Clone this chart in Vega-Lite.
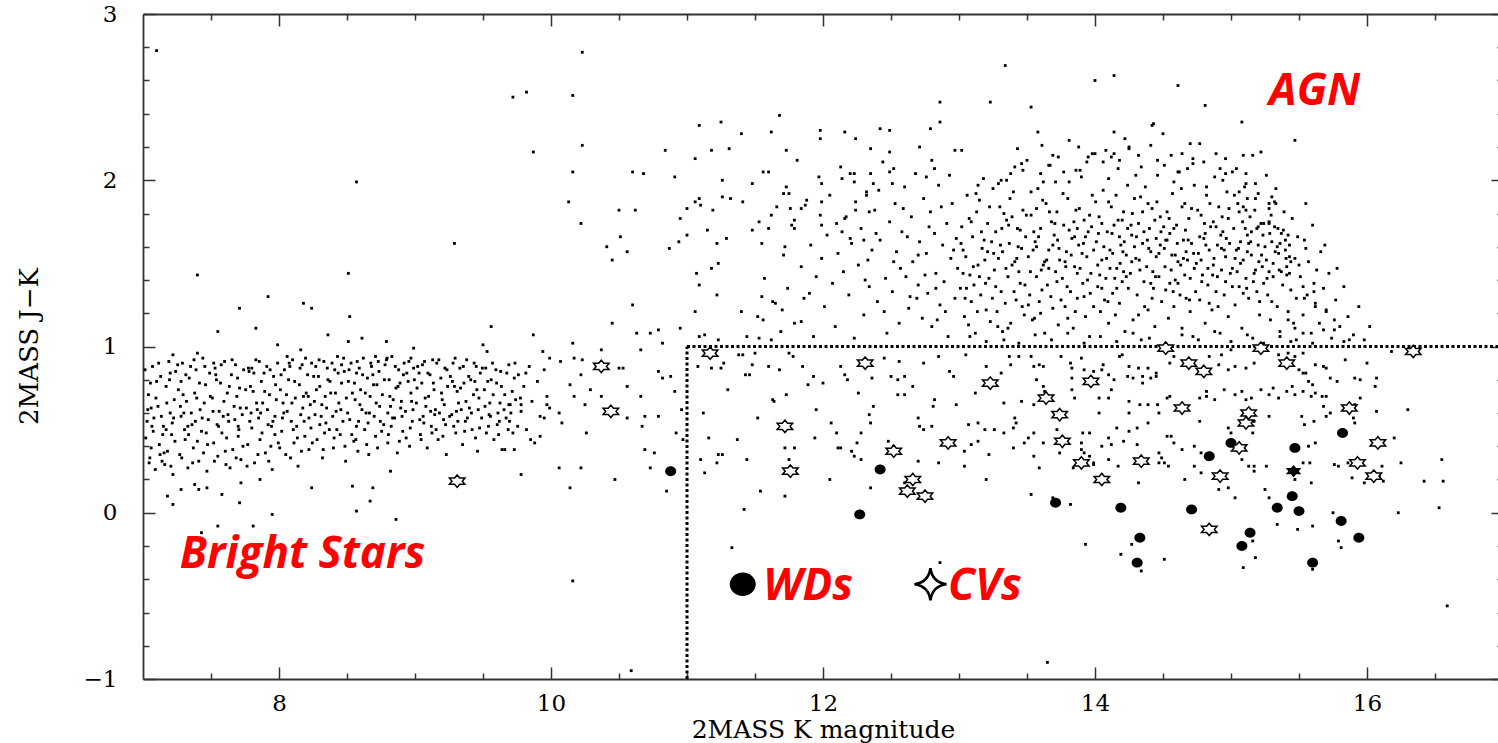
{
"$schema": "https://vega.github.io/schema/vega-lite/v6.json",
"width": 1360, "height": 665,
"autosize": "none",
"padding": {"left": 143, "top": 14, "right": 0, "bottom": 64},
"background": "white",
"config": {"view": {"stroke": null}},
"datasets": {
"dots": [
{"K":7.10,"JK":2.78},{"K":8.57,"JK":1.99},{"K":9.29,"JK":1.62},{"K":7.40,"JK":1.43},{"K":8.51,"JK":1.44},{"K":7.92,"JK":1.30},{"K":7.71,"JK":1.23},{"K":8.18,"JK":1.26},{"K":8.24,"JK":1.23},{"K":8.52,"JK":1.18},{"K":7.55,"JK":1.09},{"K":7.83,"JK":1.11},{"K":9.56,"JK":1.12},{"K":8.36,"JK":1.07},{"K":8.51,"JK":1.03},{"K":8.61,"JK":1.05},{"K":8.79,"JK":1.03},{"K":8.99,"JK":0.99},{"K":9.50,"JK":1.01},{"K":9.53,"JK":0.97},{"K":7.99,"JK":1.01},{"K":8.16,"JK":0.98},{"K":7.22,"JK":0.95},{"K":7.40,"JK":0.96},
{"K":7.18,"JK":0.10},{"K":7.28,"JK":0.14},{"K":7.38,"JK":0.17},{"K":7.41,"JK":0.14},{"K":7.47,"JK":0.15},{"K":7.58,"JK":0.11},{"K":7.72,"JK":0.18},{"K":7.86,"JK":0.20},{"K":8.24,"JK":0.15},{"K":8.54,"JK":0.16},{"K":8.69,"JK":0.15},{"K":8.82,"JK":0.25},{"K":7.22,"JK":0.05},{"K":7.71,"JK":0.06},{"K":7.95,"JK":-0.01},{"K":7.43,"JK":-0.12},{"K":7.55,"JK":-0.08},{"K":7.81,"JK":-0.08},{"K":8.57,"JK":0.01},{"K":8.67,"JK":0.07},{"K":8.86,"JK":-0.04},
{"K":11.42,"JK":0.02},{"K":11.33,"JK":-0.21},{"K":10.16,"JK":-0.41},{"K":10.59,"JK":-0.95},{"K":12.86,"JK":-0.30},
{"K":13.82,"JK":0.05},{"K":13.93,"JK":-0.19},{"K":14.19,"JK":-0.25},{"K":14.27,"JK":-0.19},{"K":14.34,"JK":-0.35},{"K":14.51,"JK":-0.28},{"K":15.09,"JK":-0.33},{"K":15.18,"JK":-0.27},{"K":15.16,"JK":-0.17},{"K":15.34,"JK":-0.07},{"K":15.49,"JK":-0.10},{"K":15.60,"JK":-0.08},{"K":15.60,"JK":-0.34},{"K":15.75,"JK":0.00},{"K":15.79,"JK":-0.17},{"K":15.81,"JK":-0.21},{"K":16.23,"JK":0.00},{"K":16.53,"JK":0.03},{"K":16.59,"JK":-0.56},{"K":13.65,"JK":-0.90},{"K":16.42,"JK":0.19},{"K":16.56,"JK":0.19},{"K":16.55,"JK":0.32},{"K":16.25,"JK":0.30},
{"K":9.72,"JK":2.50},{"K":9.82,"JK":2.53},{"K":10.16,"JK":2.51},{"K":10.23,"JK":2.77},{"K":9.87,"JK":2.17},{"K":10.23,"JK":2.21},{"K":10.16,"JK":2.05},{"K":10.13,"JK":1.87},{"K":10.22,"JK":1.74},{"K":10.50,"JK":1.82},{"K":10.60,"JK":2.05},{"K":10.68,"JK":2.04},{"K":10.84,"JK":2.18},{"K":10.91,"JK":2.02},{"K":11.06,"JK":2.13},{"K":11.09,"JK":2.33},{"K":11.25,"JK":2.35},{"K":11.18,"JK":2.18},{"K":11.31,"JK":2.19},{"K":11.40,"JK":2.28},{"K":11.62,"JK":2.29},{"K":11.68,"JK":2.39},{"K":11.73,"JK":2.18},{"K":11.98,"JK":2.30},{"K":11.98,"JK":2.25},{"K":12.16,"JK":2.29},{"K":12.24,"JK":2.25},{"K":12.42,"JK":2.31},{"K":12.49,"JK":2.30},{"K":12.86,"JK":2.47},{"K":13.23,"JK":2.47},{"K":12.86,"JK":2.35},{"K":12.79,"JK":2.31},{"K":12.49,"JK":2.17},{"K":12.35,"JK":2.19},{"K":12.71,"JK":2.20},{"K":12.97,"JK":2.18},{"K":13.02,"JK":2.18},{"K":12.80,"JK":2.12},{"K":12.82,"JK":2.07},{"K":12.76,"JK":2.02},{"K":12.52,"JK":2.07},{"K":12.49,"JK":2.05},{"K":12.35,"JK":2.04},{"K":12.23,"JK":2.04},{"K":12.20,"JK":2.04},{"K":12.14,"JK":2.01},{"K":12.23,"JK":1.99},{"K":12.37,"JK":1.98},{"K":12.51,"JK":1.98},{"K":12.41,"JK":1.94},{"K":12.32,"JK":1.91},{"K":11.99,"JK":1.98},{"K":11.99,"JK":1.87},{"K":11.98,"JK":1.79},{"K":11.99,"JK":1.73},{"K":12.10,"JK":1.74},{"K":12.16,"JK":1.77},{"K":12.14,"JK":1.69},{"K":12.20,"JK":1.65},{"K":12.24,"JK":1.82},{"K":12.34,"JK":1.81},{"K":12.30,"JK":1.64},
{"K":10.41,"JK":1.60},{"K":10.87,"JK":1.59},{"K":10.94,"JK":1.63},{"K":11.00,"JK":1.67},{"K":10.95,"JK":1.77},{"K":11.00,"JK":1.83},{"K":11.06,"JK":1.87},{"K":11.09,"JK":1.89},{"K":11.10,"JK":1.85},{"K":11.15,"JK":1.70},{"K":11.22,"JK":1.62},{"K":11.29,"JK":1.65},{"K":11.26,"JK":1.90},{"K":11.32,"JK":1.89},{"K":11.19,"JK":1.82},{"K":11.41,"JK":1.87},{"K":11.48,"JK":1.98},{"K":11.56,"JK":2.05},{"K":11.26,"JK":2.00},{"K":11.48,"JK":1.70},{"K":11.53,"JK":1.75},{"K":11.60,"JK":1.71},{"K":11.62,"JK":1.79},{"K":11.71,"JK":1.92},{"K":11.75,"JK":1.92},{"K":11.76,"JK":1.83},{"K":11.79,"JK":1.76},{"K":11.79,"JK":1.71},{"K":11.84,"JK":1.83},{"K":11.87,"JK":1.85},{"K":11.72,"JK":1.60},{"K":10.51,"JK":1.66},{"K":10.62,"JK":1.82},
{"K":10.45,"JK":1.52},{"K":10.56,"JK":1.57},{"K":9.87,"JK":1.07},{"K":10.60,"JK":1.25},{"K":10.45,"JK":1.14},{"K":10.63,"JK":1.08},{"K":10.73,"JK":1.08},{"K":10.79,"JK":1.10},{"K":10.95,"JK":1.11},{"K":10.16,"JK":1.02},{"K":10.37,"JK":0.98},{"K":10.66,"JK":0.98},{"K":10.82,"JK":1.02},{"K":11.07,"JK":1.44},{"K":11.09,"JK":1.37},{"K":11.18,"JK":1.47},{"K":11.23,"JK":1.50},{"K":11.22,"JK":1.31},{"K":11.06,"JK":1.21},{"K":11.13,"JK":1.07},{"K":11.09,"JK":1.06},{"K":11.23,"JK":1.04},{"K":11.40,"JK":1.21},{"K":11.44,"JK":1.06},{"K":11.53,"JK":1.05},{"K":11.62,"JK":1.04},{"K":11.56,"JK":1.16},{"K":11.55,"JK":1.30},{"K":11.65,"JK":1.26},{"K":11.70,"JK":1.22},{"K":11.84,"JK":1.15},{"K":11.90,"JK":1.32},
{"K":9.99,"JK":0.93},{"K":9.94,"JK":0.97},{"K":10.07,"JK":0.91},{"K":10.17,"JK":0.93},{"K":10.23,"JK":0.92},{"K":10.50,"JK":0.87},{"K":10.53,"JK":0.87},{"K":10.79,"JK":0.85},{"K":10.82,"JK":0.81},{"K":10.88,"JK":0.82},{"K":10.91,"JK":0.73},{"K":10.66,"JK":0.70},{"K":10.56,"JK":0.76},{"K":10.22,"JK":0.83},{"K":10.14,"JK":0.77},{"K":10.29,"JK":0.74},{"K":10.37,"JK":0.70},{"K":10.17,"JK":0.70},{"K":10.25,"JK":0.65},{"K":9.97,"JK":0.65},{"K":10.06,"JK":0.60},{"K":9.95,"JK":0.57},{"K":10.08,"JK":0.54},{"K":10.26,"JK":0.48},{"K":10.56,"JK":0.57},{"K":10.69,"JK":0.58},{"K":10.79,"JK":0.58},{"K":10.67,"JK":0.52},{"K":10.92,"JK":0.48},{"K":10.69,"JK":0.38},{"K":10.76,"JK":0.36},{"K":10.73,"JK":0.27},{"K":10.47,"JK":0.20},{"K":10.22,"JK":0.27},{"K":10.06,"JK":0.27},{"K":10.14,"JK":0.15},{"K":9.78,"JK":0.23},{"K":10.85,"JK":0.13},{"K":9.78,"JK":0.65},{"K":9.69,"JK":0.65},{"K":9.92,"JK":0.46},{"K":9.85,"JK":0.44},{"K":9.73,"JK":0.38},{"K":9.66,"JK":0.38},{"K":10.96,"JK":0.62},{"K":10.97,"JK":0.44},
{"K":7.02,"JK":0.45},{"K":7.04,"JK":0.71},{"K":7.05,"JK":0.33},{"K":7.07,"JK":0.88},{"K":7.08,"JK":0.57},{"K":7.09,"JK":0.26},{"K":7.11,"JK":0.64},{"K":7.12,"JK":0.41},{"K":7.13,"JK":0.82},{"K":7.15,"JK":0.52},{"K":7.16,"JK":0.29},{"K":7.17,"JK":0.76},{"K":7.18,"JK":0.37},{"K":7.19,"JK":0.91},{"K":7.20,"JK":0.60},{"K":7.21,"JK":0.47},{"K":7.22,"JK":0.23},{"K":7.23,"JK":0.68},{"K":7.24,"JK":0.85},{"K":7.03,"JK":0.55},{"K":7.06,"JK":0.39},{"K":7.10,"JK":0.79},{"K":7.14,"JK":0.31},{"K":7.20,"JK":0.84},{"K":7.06,"JK":0.63},{"K":7.17,"JK":0.50},
{"K":7.26,"JK":0.74},{"K":7.27,"JK":0.35},{"K":7.28,"JK":0.58},{"K":7.29,"JK":0.90},{"K":7.31,"JK":0.44},{"K":7.32,"JK":0.67},{"K":7.33,"JK":0.27},{"K":7.34,"JK":0.81},{"K":7.36,"JK":0.53},{"K":7.37,"JK":0.39},{"K":7.38,"JK":0.72},{"K":7.39,"JK":0.86},{"K":7.41,"JK":0.31},{"K":7.42,"JK":0.62},{"K":7.43,"JK":0.49},{"K":7.44,"JK":0.93},{"K":7.46,"JK":0.77},{"K":7.47,"JK":0.25},{"K":7.48,"JK":0.56},{"K":7.49,"JK":0.84},{"K":7.30,"JK":0.60},{"K":7.35,"JK":0.88},{"K":7.40,"JK":0.43},{"K":7.45,"JK":0.66},{"K":7.33,"JK":0.52},{"K":7.28,"JK":0.79},
{"K":7.51,"JK":0.69},{"K":7.52,"JK":0.42},{"K":7.53,"JK":0.87},{"K":7.55,"JK":0.34},{"K":7.56,"JK":0.61},{"K":7.57,"JK":0.78},{"K":7.58,"JK":0.48},{"K":7.60,"JK":0.91},{"K":7.61,"JK":0.29},{"K":7.62,"JK":0.72},{"K":7.63,"JK":0.55},{"K":7.65,"JK":0.83},{"K":7.66,"JK":0.38},{"K":7.67,"JK":0.64},{"K":7.68,"JK":0.89},{"K":7.70,"JK":0.46},{"K":7.71,"JK":0.75},{"K":7.72,"JK":0.32},{"K":7.73,"JK":0.59},{"K":7.74,"JK":0.86},{"K":7.54,"JK":0.80},{"K":7.59,"JK":0.58},{"K":7.64,"JK":0.27},{"K":7.69,"JK":0.70},{"K":7.52,"JK":0.90},{"K":7.70,"JK":0.52},
{"K":7.76,"JK":0.63},{"K":7.77,"JK":0.41},{"K":7.78,"JK":0.85},{"K":7.80,"JK":0.51},{"K":7.81,"JK":0.73},{"K":7.82,"JK":0.30},{"K":7.83,"JK":0.92},{"K":7.85,"JK":0.57},{"K":7.86,"JK":0.44},{"K":7.87,"JK":0.79},{"K":7.88,"JK":0.66},{"K":7.90,"JK":0.36},{"K":7.91,"JK":0.88},{"K":7.92,"JK":0.53},{"K":7.93,"JK":0.71},{"K":7.95,"JK":0.26},{"K":7.96,"JK":0.82},{"K":7.97,"JK":0.47},{"K":7.98,"JK":0.68},{"K":7.99,"JK":0.90},{"K":7.79,"JK":0.76},{"K":7.84,"JK":0.62},{"K":7.89,"JK":0.84},{"K":7.94,"JK":0.40},{"K":7.80,"JK":0.87},{"K":7.97,"JK":0.58},
{"K":8.01,"JK":0.74},{"K":8.02,"JK":0.49},{"K":8.04,"JK":0.86},{"K":8.05,"JK":0.35},{"K":8.06,"JK":0.61},{"K":8.07,"JK":0.80},{"K":8.09,"JK":0.55},{"K":8.10,"JK":0.92},{"K":8.11,"JK":0.42},{"K":8.12,"JK":0.69},{"K":8.14,"JK":0.28},{"K":8.15,"JK":0.77},{"K":8.16,"JK":0.59},{"K":8.17,"JK":0.89},{"K":8.19,"JK":0.46},{"K":8.20,"JK":0.72},{"K":8.21,"JK":0.83},{"K":8.22,"JK":0.38},{"K":8.23,"JK":0.65},{"K":8.24,"JK":0.90},{"K":8.03,"JK":0.66},{"K":8.08,"JK":0.88},{"K":8.13,"JK":0.52},{"K":8.18,"JK":0.70},{"K":8.06,"JK":0.94},{"K":8.22,"JK":0.57},
{"K":8.26,"JK":0.67},{"K":8.27,"JK":0.88},{"K":8.28,"JK":0.44},{"K":8.30,"JK":0.76},{"K":8.31,"JK":0.58},{"K":8.32,"JK":0.33},{"K":8.33,"JK":0.91},{"K":8.35,"JK":0.63},{"K":8.36,"JK":0.80},{"K":8.37,"JK":0.50},{"K":8.38,"JK":0.72},{"K":8.40,"JK":0.39},{"K":8.41,"JK":0.86},{"K":8.42,"JK":0.61},{"K":8.43,"JK":0.94},{"K":8.45,"JK":0.47},{"K":8.46,"JK":0.78},{"K":8.47,"JK":0.55},{"K":8.48,"JK":0.85},{"K":8.49,"JK":0.31},{"K":8.29,"JK":0.82},{"K":8.34,"JK":0.70},{"K":8.39,"JK":0.90},{"K":8.44,"JK":0.66},{"K":8.30,"JK":0.53},{"K":8.46,"JK":0.89},
{"K":8.51,"JK":0.79},{"K":8.52,"JK":0.56},{"K":8.53,"JK":0.90},{"K":8.55,"JK":0.43},{"K":8.56,"JK":0.68},{"K":8.57,"JK":0.84},{"K":8.58,"JK":0.37},{"K":8.60,"JK":0.74},{"K":8.61,"JK":0.62},{"K":8.62,"JK":0.93},{"K":8.63,"JK":0.50},{"K":8.65,"JK":0.81},{"K":8.66,"JK":0.35},{"K":8.67,"JK":0.70},{"K":8.68,"JK":0.88},{"K":8.70,"JK":0.58},{"K":8.71,"JK":0.46},{"K":8.72,"JK":0.77},{"K":8.73,"JK":0.91},{"K":8.74,"JK":0.64},{"K":8.54,"JK":0.72},{"K":8.59,"JK":0.87},{"K":8.64,"JK":0.60},{"K":8.69,"JK":0.83},{"K":8.57,"JK":0.52},{"K":8.71,"JK":0.94},
{"K":8.76,"JK":0.71},{"K":8.77,"JK":0.53},{"K":8.78,"JK":0.89},{"K":8.80,"JK":0.42},{"K":8.81,"JK":0.80},{"K":8.82,"JK":0.64},{"K":8.83,"JK":0.94},{"K":8.85,"JK":0.57},{"K":8.86,"JK":0.75},{"K":8.87,"JK":0.36},{"K":8.88,"JK":0.86},{"K":8.90,"JK":0.67},{"K":8.91,"JK":0.49},{"K":8.92,"JK":0.90},{"K":8.93,"JK":0.61},{"K":8.95,"JK":0.79},{"K":8.96,"JK":0.40},{"K":8.97,"JK":0.72},{"K":8.98,"JK":0.55},{"K":8.99,"JK":0.87},{"K":8.79,"JK":0.92},{"K":8.84,"JK":0.68},{"K":8.89,"JK":0.78},{"K":8.94,"JK":0.84},{"K":8.80,"JK":0.60},{"K":8.97,"JK":0.93},
{"K":9.01,"JK":0.66},{"K":9.02,"JK":0.88},{"K":9.04,"JK":0.47},{"K":9.05,"JK":0.78},{"K":9.06,"JK":0.58},{"K":9.07,"JK":0.91},{"K":9.09,"JK":0.39},{"K":9.10,"JK":0.70},{"K":9.11,"JK":0.83},{"K":9.12,"JK":0.52},{"K":9.14,"JK":0.74},{"K":9.15,"JK":0.62},{"K":9.16,"JK":0.90},{"K":9.17,"JK":0.44},{"K":9.19,"JK":0.81},{"K":9.20,"JK":0.68},{"K":9.21,"JK":0.56},{"K":9.22,"JK":0.87},{"K":9.23,"JK":0.35},{"K":9.24,"JK":0.76},{"K":9.03,"JK":0.84},{"K":9.08,"JK":0.64},{"K":9.13,"JK":0.92},{"K":9.18,"JK":0.60},
{"K":9.26,"JK":0.82},{"K":9.27,"JK":0.59},{"K":9.28,"JK":0.90},{"K":9.30,"JK":0.48},{"K":9.31,"JK":0.73},{"K":9.32,"JK":0.66},{"K":9.33,"JK":0.87},{"K":9.35,"JK":0.41},{"K":9.36,"JK":0.78},{"K":9.37,"JK":0.55},{"K":9.38,"JK":0.92},{"K":9.40,"JK":0.63},{"K":9.41,"JK":0.80},{"K":9.42,"JK":0.50},{"K":9.43,"JK":0.71},{"K":9.45,"JK":0.88},{"K":9.46,"JK":0.37},{"K":9.47,"JK":0.69},{"K":9.48,"JK":0.84},{"K":9.49,"JK":0.57},{"K":9.29,"JK":0.76},{"K":9.34,"JK":0.62},{"K":9.44,"JK":0.79},
{"K":9.51,"JK":0.74},{"K":9.52,"JK":0.87},{"K":9.54,"JK":0.52},{"K":9.55,"JK":0.66},{"K":9.57,"JK":0.90},{"K":9.58,"JK":0.44},{"K":9.60,"JK":0.78},{"K":9.61,"JK":0.60},{"K":9.63,"JK":0.85},{"K":9.64,"JK":0.38},{"K":9.66,"JK":0.71},{"K":9.67,"JK":0.57},{"K":9.69,"JK":0.89},{"K":9.70,"JK":0.65},{"K":9.72,"JK":0.48},{"K":9.73,"JK":0.81},{"K":9.74,"JK":0.68},{"K":9.56,"JK":0.80},{"K":9.62,"JK":0.55},
{"K":9.76,"JK":0.83},{"K":9.78,"JK":0.61},{"K":9.80,"JK":0.76},{"K":9.82,"JK":0.50},{"K":9.84,"JK":0.88},{"K":9.86,"JK":0.67},{"K":9.88,"JK":0.42},{"K":9.90,"JK":0.79},{"K":9.92,"JK":0.58},{"K":9.95,"JK":0.86},{"K":9.97,"JK":0.70},{"K":9.99,"JK":0.63},
{"K":7.015,"JK":0.86},{"K":7.035,"JK":0.62},{"K":7.055,"JK":0.78},{"K":7.075,"JK":0.49},{"K":7.095,"JK":0.69},{"K":7.115,"JK":0.90},{"K":7.135,"JK":0.58},{"K":7.155,"JK":0.36},{"K":7.175,"JK":0.66},{"K":7.195,"JK":0.80},{"K":7.215,"JK":0.54},{"K":7.235,"JK":0.43},{"K":7.255,"JK":0.89},{"K":7.275,"JK":0.64},{"K":7.295,"JK":0.71},{"K":7.315,"JK":0.83},{"K":7.335,"JK":0.47},{"K":7.355,"JK":0.60},{"K":7.375,"JK":0.92},{"K":7.395,"JK":0.69},
{"K":7.415,"JK":0.78},{"K":7.435,"JK":0.57},{"K":7.455,"JK":0.88},{"K":7.475,"JK":0.41},{"K":7.495,"JK":0.70},{"K":7.515,"JK":0.61},{"K":7.535,"JK":0.83},{"K":7.555,"JK":0.52},{"K":7.575,"JK":0.89},{"K":7.595,"JK":0.67},{"K":7.615,"JK":0.45},{"K":7.635,"JK":0.76},{"K":7.655,"JK":0.92},{"K":7.675,"JK":0.56},{"K":7.695,"JK":0.81},{"K":7.715,"JK":0.63},{"K":7.735,"JK":0.40},{"K":7.755,"JK":0.74},{"K":7.775,"JK":0.87},{"K":7.795,"JK":0.60},
{"K":7.815,"JK":0.84},{"K":7.835,"JK":0.66},{"K":7.855,"JK":0.91},{"K":7.875,"JK":0.48},{"K":7.895,"JK":0.73},{"K":7.915,"JK":0.62},{"K":7.935,"JK":0.86},{"K":7.955,"JK":0.55},{"K":7.975,"JK":0.77},{"K":7.995,"JK":0.42},{"K":8.015,"JK":0.83},{"K":8.035,"JK":0.60},{"K":8.055,"JK":0.71},{"K":8.075,"JK":0.90},{"K":8.095,"JK":0.66},{"K":8.115,"JK":0.79},{"K":8.135,"JK":0.45},{"K":8.155,"JK":0.87},{"K":8.175,"JK":0.63},{"K":8.195,"JK":0.93},
{"K":8.215,"JK":0.70},{"K":8.235,"JK":0.51},{"K":8.255,"JK":0.82},{"K":8.275,"JK":0.74},{"K":8.295,"JK":0.92},{"K":8.315,"JK":0.65},{"K":8.335,"JK":0.48},{"K":8.355,"JK":0.87},{"K":8.375,"JK":0.79},{"K":8.395,"JK":0.58},{"K":8.415,"JK":0.72},{"K":8.435,"JK":0.84},{"K":8.455,"JK":0.62},{"K":8.475,"JK":0.93},{"K":8.495,"JK":0.69},{"K":8.515,"JK":0.86},{"K":8.535,"JK":0.47},{"K":8.555,"JK":0.78},{"K":8.575,"JK":0.91},{"K":8.595,"JK":0.65},
{"K":8.615,"JK":0.83},{"K":8.635,"JK":0.72},{"K":8.655,"JK":0.54},{"K":8.675,"JK":0.90},{"K":8.695,"JK":0.77},{"K":8.715,"JK":0.66},{"K":8.735,"JK":0.85},{"K":8.755,"JK":0.49},{"K":8.775,"JK":0.80},{"K":8.795,"JK":0.93},{"K":8.815,"JK":0.70},{"K":8.835,"JK":0.57},{"K":8.855,"JK":0.88},{"K":8.875,"JK":0.76},{"K":8.895,"JK":0.63},{"K":8.915,"JK":0.83},{"K":8.935,"JK":0.45},{"K":8.955,"JK":0.91},{"K":8.975,"JK":0.67},{"K":8.995,"JK":0.80},
{"K":9.015,"JK":0.75},{"K":9.035,"JK":0.56},{"K":9.055,"JK":0.89},{"K":9.075,"JK":0.69},{"K":9.095,"JK":0.84},{"K":9.115,"JK":0.61},{"K":9.135,"JK":0.78},{"K":9.155,"JK":0.50},{"K":9.175,"JK":0.92},{"K":9.195,"JK":0.72},{"K":9.215,"JK":0.65},{"K":9.235,"JK":0.86},{"K":9.255,"JK":0.58},{"K":9.275,"JK":0.79},{"K":9.295,"JK":0.93},{"K":9.315,"JK":0.55},{"K":9.335,"JK":0.75},{"K":9.355,"JK":0.88},{"K":9.375,"JK":0.67},{"K":9.395,"JK":0.82},
{"K":9.415,"JK":0.60},{"K":9.435,"JK":0.90},{"K":9.455,"JK":0.74},{"K":9.475,"JK":0.51},{"K":9.495,"JK":0.87},{"K":9.515,"JK":0.64},{"K":9.535,"JK":0.79},{"K":9.555,"JK":0.58},{"K":9.575,"JK":0.71},{"K":9.595,"JK":0.86},{"K":9.615,"JK":0.47},{"K":9.635,"JK":0.76},{"K":9.655,"JK":0.62},{"K":9.675,"JK":0.84},{"K":9.695,"JK":0.55},{"K":9.715,"JK":0.73},{"K":9.735,"JK":0.90},{"K":9.755,"JK":0.52},{"K":9.775,"JK":0.69},{"K":9.815,"JK":0.84},
{"K":7.045,"JK":0.30},{"K":7.125,"JK":0.35},{"K":7.205,"JK":0.28},{"K":7.285,"JK":0.33},{"K":7.365,"JK":0.30},{"K":7.445,"JK":0.36},{"K":7.525,"JK":0.31},{"K":7.605,"JK":0.37},{"K":7.685,"JK":0.33},{"K":7.765,"JK":0.28},{"K":7.845,"JK":0.35},{"K":7.925,"JK":0.31},{"K":8.005,"JK":0.39},{"K":8.085,"JK":0.33},{"K":8.165,"JK":0.37},{"K":8.245,"JK":0.42},{"K":8.325,"JK":0.38},{"K":8.405,"JK":0.45},{"K":8.485,"JK":0.40},{"K":8.565,"JK":0.44},{"K":8.645,"JK":0.41},{"K":8.725,"JK":0.39},{"K":8.805,"JK":0.47},{"K":8.885,"JK":0.43},{"K":8.965,"JK":0.51},{"K":9.045,"JK":0.44},{"K":9.125,"JK":0.48},{"K":9.205,"JK":0.46},{"K":9.285,"JK":0.52},{"K":9.365,"JK":0.49},{"K":9.445,"JK":0.45},{"K":9.525,"JK":0.48},{"K":9.605,"JK":0.53},{"K":9.685,"JK":0.50},
{"K":7.065,"JK":0.52},{"K":7.145,"JK":0.47},{"K":7.225,"JK":0.57},{"K":7.305,"JK":0.50},{"K":7.385,"JK":0.55},{"K":7.465,"JK":0.48},{"K":7.545,"JK":0.53},{"K":7.625,"JK":0.59},{"K":7.705,"JK":0.50},{"K":7.785,"JK":0.55},{"K":7.865,"JK":0.60},{"K":7.945,"JK":0.52},{"K":8.025,"JK":0.57},{"K":8.105,"JK":0.50},{"K":8.185,"JK":0.55},{"K":8.265,"JK":0.59},{"K":8.345,"JK":0.54},{"K":8.425,"JK":0.50},{"K":8.505,"JK":0.60},{"K":8.585,"JK":0.55},{"K":8.665,"JK":0.60},{"K":8.745,"JK":0.55},{"K":8.825,"JK":0.52},{"K":8.905,"JK":0.58},{"K":8.985,"JK":0.62},{"K":9.065,"JK":0.54},{"K":9.145,"JK":0.59},{"K":9.225,"JK":0.53},{"K":9.305,"JK":0.61},{"K":9.385,"JK":0.57},{"K":9.465,"JK":0.62},{"K":9.545,"JK":0.59},{"K":9.625,"JK":0.66},{"K":9.705,"JK":0.60},
{"K":11.52,"JK":1.18},{"K":11.55,"JK":1.62},{"K":11.57,"JK":1.41},{"K":11.60,"JK":2.05},{"K":11.63,"JK":1.27},{"K":11.66,"JK":1.84},{"K":11.69,"JK":1.09},{"K":11.71,"JK":1.55},{"K":11.73,"JK":1.96},{"K":11.74,"JK":1.35},
{"K":11.77,"JK":1.73},{"K":11.79,"JK":1.14},{"K":11.81,"JK":2.12},{"K":11.84,"JK":1.48},{"K":11.86,"JK":1.29},{"K":11.88,"JK":1.88},{"K":11.91,"JK":1.61},{"K":11.93,"JK":1.06},{"K":11.95,"JK":1.42},{"K":11.97,"JK":2.02},{"K":11.99,"JK":1.53},
{"K":12.01,"JK":1.24},{"K":12.03,"JK":1.67},{"K":12.05,"JK":1.91},{"K":12.07,"JK":1.38},{"K":12.09,"JK":1.12},{"K":12.11,"JK":1.56},{"K":12.13,"JK":2.08},{"K":12.15,"JK":1.45},{"K":12.17,"JK":1.78},{"K":12.19,"JK":1.31},{"K":12.21,"JK":1.62},{"K":12.23,"JK":1.05},{"K":12.24,"JK":1.87},
{"K":12.26,"JK":1.49},{"K":12.28,"JK":1.71},{"K":12.30,"JK":1.19},{"K":12.32,"JK":1.93},{"K":12.34,"JK":1.36},{"K":12.36,"JK":1.58},{"K":12.38,"JK":1.82},{"K":12.40,"JK":1.27},{"K":12.42,"JK":1.64},{"K":12.44,"JK":2.11},{"K":12.46,"JK":1.41},{"K":12.47,"JK":1.08},{"K":12.49,"JK":1.75},{"K":12.33,"JK":1.52},
{"K":12.51,"JK":1.33},{"K":12.53,"JK":1.86},{"K":12.54,"JK":1.57},{"K":12.56,"JK":1.14},{"K":12.58,"JK":1.69},{"K":12.60,"JK":1.96},{"K":12.61,"JK":1.42},{"K":12.63,"JK":1.23},{"K":12.65,"JK":1.78},{"K":12.66,"JK":1.51},{"K":12.68,"JK":2.04},{"K":12.70,"JK":1.37},{"K":12.71,"JK":1.63},{"K":12.73,"JK":1.17},{"K":12.74,"JK":1.89},{"K":12.57,"JK":1.47},{"K":12.69,"JK":1.29},
{"K":12.76,"JK":1.56},{"K":12.77,"JK":1.32},{"K":12.79,"JK":1.81},{"K":12.80,"JK":1.12},{"K":12.82,"JK":1.68},{"K":12.83,"JK":1.44},{"K":12.85,"JK":1.97},{"K":12.86,"JK":1.25},{"K":12.88,"JK":1.61},{"K":12.89,"JK":1.39},{"K":12.91,"JK":1.74},{"K":12.92,"JK":1.06},{"K":12.94,"JK":1.53},{"K":12.95,"JK":1.86},{"K":12.97,"JK":1.29},{"K":12.98,"JK":1.65},{"K":12.99,"JK":1.47},{"K":12.84,"JK":1.16},{"K":12.93,"JK":2.03},
{"K":12.31,"JK":1.40},{"K":12.39,"JK":1.68},{"K":12.45,"JK":1.21},{"K":12.52,"JK":1.51},{"K":12.59,"JK":1.83},{"K":12.64,"JK":1.30},{"K":12.70,"JK":1.55},{"K":12.78,"JK":1.72},{"K":12.83,"JK":1.35},{"K":12.90,"JK":1.21},{"K":12.96,"JK":1.58},{"K":12.62,"JK":1.66},{"K":12.87,"JK":1.84},{"K":12.75,"JK":1.43},
{"K":13.01,"JK":1.35},{"K":13.02,"JK":1.72},{"K":13.04,"JK":1.18},{"K":13.05,"JK":1.54},{"K":13.06,"JK":1.91},{"K":13.08,"JK":1.43},{"K":13.09,"JK":1.27},{"K":13.10,"JK":1.66},{"K":13.12,"JK":1.08},{"K":13.13,"JK":1.81},{"K":13.14,"JK":1.49},{"K":13.16,"JK":1.31},{"K":13.17,"JK":1.59},{"K":13.18,"JK":2.01},{"K":13.20,"JK":1.22},{"K":13.21,"JK":1.74},{"K":13.22,"JK":1.41},{"K":13.24,"JK":1.63},{"K":13.03,"JK":1.58},{"K":13.07,"JK":1.13},{"K":13.11,"JK":1.37},{"K":13.15,"JK":1.88},{"K":13.19,"JK":1.52},{"K":13.23,"JK":1.15},{"K":13.25,"JK":1.95},
{"K":13.26,"JK":1.46},{"K":13.27,"JK":1.69},{"K":13.28,"JK":1.21},{"K":13.30,"JK":1.84},{"K":13.31,"JK":1.33},{"K":13.32,"JK":1.57},{"K":13.33,"JK":1.04},{"K":13.35,"JK":1.76},{"K":13.36,"JK":1.42},{"K":13.37,"JK":1.62},{"K":13.38,"JK":1.14},{"K":13.40,"JK":1.93},{"K":13.41,"JK":1.51},{"K":13.42,"JK":1.28},{"K":13.43,"JK":1.71},{"K":13.45,"JK":1.38},{"K":13.46,"JK":1.59},{"K":13.47,"JK":2.06},{"K":13.48,"JK":1.19},{"K":13.49,"JK":1.66},{"K":13.29,"JK":1.53},{"K":13.34,"JK":1.26},{"K":13.39,"JK":1.78},{"K":13.44,"JK":1.45},{"K":13.29,"JK":1.98},{"K":13.36,"JK":1.11},{"K":13.47,"JK":1.82},
{"K":13.51,"JK":1.54},{"K":13.52,"JK":1.31},{"K":13.53,"JK":1.79},{"K":13.54,"JK":1.16},{"K":13.56,"JK":1.63},{"K":13.57,"JK":1.42},{"K":13.58,"JK":1.95},{"K":13.59,"JK":1.27},{"K":13.60,"JK":1.71},{"K":13.62,"JK":1.49},{"K":13.63,"JK":1.08},{"K":13.64,"JK":1.86},{"K":13.65,"JK":1.37},{"K":13.66,"JK":1.58},{"K":13.67,"JK":2.09},{"K":13.69,"JK":1.23},{"K":13.70,"JK":1.67},{"K":13.71,"JK":1.45},{"K":13.72,"JK":1.81},{"K":13.73,"JK":1.13},{"K":13.74,"JK":1.52},{"K":13.55,"JK":1.69},{"K":13.61,"JK":1.34},{"K":13.68,"JK":1.75},{"K":13.72,"JK":1.39},{"K":13.53,"JK":1.93},{"K":13.60,"JK":1.20},{"K":13.66,"JK":1.47},{"K":13.71,"JK":1.99},{"K":13.57,"JK":1.60},
{"K":13.76,"JK":1.41},{"K":13.77,"JK":1.73},{"K":13.78,"JK":1.24},{"K":13.79,"JK":1.57},{"K":13.80,"JK":1.89},{"K":13.82,"JK":1.33},{"K":13.83,"JK":1.65},{"K":13.84,"JK":1.11},{"K":13.85,"JK":1.48},{"K":13.86,"JK":1.82},{"K":13.87,"JK":1.29},{"K":13.88,"JK":1.61},{"K":13.90,"JK":2.02},{"K":13.91,"JK":1.38},{"K":13.92,"JK":1.76},{"K":13.93,"JK":1.18},{"K":13.94,"JK":1.54},{"K":13.95,"JK":1.69},{"K":13.96,"JK":1.06},{"K":13.97,"JK":1.44},{"K":13.98,"JK":1.91},{"K":13.99,"JK":1.58},{"K":13.78,"JK":1.51},{"K":13.81,"JK":1.99},{"K":13.85,"JK":1.66},{"K":13.89,"JK":1.47},{"K":13.92,"JK":1.30},{"K":13.96,"JK":1.79},{"K":13.80,"JK":1.17},{"K":13.94,"JK":2.11},{"K":13.87,"JK":1.71},
{"K":14.01,"JK":1.63},{"K":14.02,"JK":1.36},{"K":14.03,"JK":1.78},{"K":14.04,"JK":1.21},{"K":14.05,"JK":1.52},{"K":14.06,"JK":1.94},{"K":14.08,"JK":1.41},{"K":14.09,"JK":1.69},{"K":14.10,"JK":1.14},{"K":14.11,"JK":1.58},{"K":14.12,"JK":1.84},{"K":14.13,"JK":1.32},{"K":14.14,"JK":1.73},{"K":14.16,"JK":1.47},{"K":14.17,"JK":2.07},{"K":14.18,"JK":1.26},{"K":14.19,"JK":1.61},{"K":14.20,"JK":1.39},{"K":14.21,"JK":1.81},{"K":14.22,"JK":1.09},{"K":14.23,"JK":1.55},{"K":14.24,"JK":1.71},{"K":14.02,"JK":1.49},{"K":14.05,"JK":1.74},{"K":14.07,"JK":1.28},{"K":14.10,"JK":1.87},{"K":14.13,"JK":1.56},{"K":14.15,"JK":1.19},{"K":14.18,"JK":1.66},{"K":14.21,"JK":1.45},{"K":14.24,"JK":1.97},{"K":14.08,"JK":2.18},{"K":14.16,"JK":1.35},{"K":14.20,"JK":1.76},
{"K":14.26,"JK":1.44},{"K":14.27,"JK":1.67},{"K":14.28,"JK":1.16},{"K":14.29,"JK":1.89},{"K":14.30,"JK":1.53},{"K":14.31,"JK":1.31},{"K":14.32,"JK":1.74},{"K":14.34,"JK":1.04},{"K":14.35,"JK":1.62},{"K":14.36,"JK":1.39},{"K":14.37,"JK":1.96},{"K":14.38,"JK":1.48},{"K":14.39,"JK":1.22},{"K":14.40,"JK":1.71},{"K":14.41,"JK":1.57},{"K":14.42,"JK":1.83},{"K":14.43,"JK":1.35},{"K":14.44,"JK":1.12},{"K":14.45,"JK":1.65},{"K":14.46,"JK":2.12},{"K":14.47,"JK":1.42},{"K":14.48,"JK":1.78},{"K":14.49,"JK":1.27},{"K":14.27,"JK":1.51},{"K":14.30,"JK":2.03},{"K":14.33,"JK":1.46},{"K":14.36,"JK":1.69},{"K":14.39,"JK":1.86},{"K":14.42,"JK":1.29},{"K":14.45,"JK":1.54},{"K":14.48,"JK":1.61},{"K":14.32,"JK":1.19},{"K":14.41,"JK":2.21},{"K":14.44,"JK":1.76},
{"K":14.51,"JK":1.59},{"K":14.52,"JK":1.34},{"K":14.53,"JK":1.81},{"K":14.54,"JK":1.17},{"K":14.55,"JK":1.68},{"K":14.56,"JK":1.46},{"K":14.57,"JK":1.92},{"K":14.58,"JK":1.24},{"K":14.59,"JK":1.55},{"K":14.60,"JK":1.73},{"K":14.61,"JK":1.38},{"K":14.62,"JK":2.05},{"K":14.63,"JK":1.49},{"K":14.64,"JK":1.11},{"K":14.65,"JK":1.64},{"K":14.66,"JK":1.86},{"K":14.67,"JK":1.29},{"K":14.68,"JK":1.52},{"K":14.69,"JK":1.77},{"K":14.70,"JK":1.41},{"K":14.71,"JK":1.62},{"K":14.72,"JK":1.06},{"K":14.73,"JK":1.97},{"K":14.74,"JK":1.33},{"K":14.52,"JK":1.64},{"K":14.55,"JK":1.38},{"K":14.58,"JK":1.71},{"K":14.61,"JK":1.51},{"K":14.64,"JK":1.84},{"K":14.67,"JK":1.57},{"K":14.70,"JK":1.21},{"K":14.73,"JK":1.47},{"K":14.56,"JK":2.15},{"K":14.66,"JK":1.43},
{"K":14.76,"JK":1.56},{"K":14.77,"JK":1.28},{"K":14.78,"JK":1.79},{"K":14.79,"JK":1.43},{"K":14.80,"JK":1.65},{"K":14.81,"JK":1.14},{"K":14.82,"JK":1.91},{"K":14.83,"JK":1.37},{"K":14.84,"JK":1.58},{"K":14.85,"JK":1.72},{"K":14.86,"JK":1.22},{"K":14.87,"JK":1.49},{"K":14.88,"JK":2.02},{"K":14.89,"JK":1.33},{"K":14.90,"JK":1.61},{"K":14.91,"JK":1.84},{"K":14.92,"JK":1.08},{"K":14.93,"JK":1.46},{"K":14.94,"JK":1.69},{"K":14.95,"JK":1.31},{"K":14.96,"JK":1.54},{"K":14.97,"JK":1.93},{"K":14.98,"JK":1.18},{"K":14.99,"JK":1.62},{"K":14.78,"JK":1.52},{"K":14.81,"JK":1.68},{"K":14.84,"JK":1.26},{"K":14.87,"JK":1.75},{"K":14.90,"JK":1.42},{"K":14.93,"JK":1.59},{"K":14.96,"JK":1.39},{"K":14.80,"JK":2.11},{"K":14.98,"JK":1.77},
{"K":15.01,"JK":1.47},{"K":15.02,"JK":1.71},{"K":15.03,"JK":1.25},{"K":15.04,"JK":1.58},{"K":15.05,"JK":1.86},{"K":15.06,"JK":1.36},{"K":15.07,"JK":1.63},{"K":15.08,"JK":1.11},{"K":15.09,"JK":1.52},{"K":15.10,"JK":1.96},{"K":15.11,"JK":1.41},{"K":15.12,"JK":1.67},{"K":15.13,"JK":1.29},{"K":15.14,"JK":1.78},{"K":15.15,"JK":1.55},{"K":15.16,"JK":1.05},{"K":15.17,"JK":1.44},{"K":15.18,"JK":1.89},{"K":15.19,"JK":1.33},{"K":15.20,"JK":1.61},{"K":15.21,"JK":1.19},{"K":15.22,"JK":1.74},{"K":15.23,"JK":1.48},{"K":15.24,"JK":1.38},{"K":15.03,"JK":1.53},{"K":15.06,"JK":1.81},{"K":15.09,"JK":1.32},{"K":15.12,"JK":1.57},{"K":15.15,"JK":1.69},{"K":15.18,"JK":1.46},{"K":15.21,"JK":1.27},{"K":15.04,"JK":2.07},
{"K":15.26,"JK":1.52},{"K":15.27,"JK":1.31},{"K":15.28,"JK":1.74},{"K":15.29,"JK":1.16},{"K":15.30,"JK":1.63},{"K":15.31,"JK":1.42},{"K":15.32,"JK":1.87},{"K":15.34,"JK":1.24},{"K":15.35,"JK":1.56},{"K":15.36,"JK":1.09},{"K":15.37,"JK":1.68},{"K":15.38,"JK":1.37},{"K":15.39,"JK":1.81},{"K":15.41,"JK":1.48},{"K":15.42,"JK":1.21},{"K":15.43,"JK":1.61},{"K":15.44,"JK":1.34},{"K":15.45,"JK":1.77},{"K":15.46,"JK":1.14},{"K":15.47,"JK":1.53},{"K":15.48,"JK":1.29},{"K":15.49,"JK":1.66},{"K":15.28,"JK":1.45},{"K":15.33,"JK":1.95},{"K":15.40,"JK":1.58},{"K":15.44,"JK":1.03},{"K":15.30,"JK":1.27},
{"K":15.51,"JK":1.42},{"K":15.53,"JK":1.19},{"K":15.54,"JK":1.64},{"K":15.56,"JK":1.31},{"K":15.57,"JK":1.51},{"K":15.59,"JK":1.08},{"K":15.60,"JK":1.73},{"K":15.62,"JK":1.26},{"K":15.63,"JK":1.46},{"K":15.65,"JK":1.14},{"K":15.66,"JK":1.57},{"K":15.68,"JK":1.35},{"K":15.70,"JK":1.22},{"K":15.72,"JK":1.44},{"K":15.74,"JK":1.05},{"K":15.55,"JK":1.86},{"K":15.61,"JK":1.38},{"K":15.69,"JK":1.61},
{"K":15.77,"JK":1.28},{"K":15.80,"JK":1.12},{"K":15.83,"JK":1.36},{"K":15.86,"JK":1.18},{"K":15.90,"JK":1.07},{"K":15.94,"JK":1.24},{"K":15.98,"JK":1.04},{"K":16.02,"JK":1.12},{"K":15.78,"JK":1.47},
{"K":13.015,"JK":1.62},{"K":13.045,"JK":1.29},{"K":13.075,"JK":1.77},{"K":13.105,"JK":1.48},{"K":13.135,"JK":1.21},{"K":13.165,"JK":1.69},{"K":13.195,"JK":1.38},{"K":13.225,"JK":1.84},{"K":13.255,"JK":1.56},{"K":13.285,"JK":1.12},{"K":13.315,"JK":1.71},{"K":13.345,"JK":1.47},{"K":13.375,"JK":1.89},{"K":13.405,"JK":1.33},{"K":13.435,"JK":1.60},{"K":13.465,"JK":1.24},{"K":13.495,"JK":1.79},{"K":13.525,"JK":1.45},{"K":13.555,"JK":1.17},{"K":13.585,"JK":1.66},
{"K":13.615,"JK":1.88},{"K":13.645,"JK":1.52},{"K":13.675,"JK":1.30},{"K":13.705,"JK":1.74},{"K":13.735,"JK":1.59},{"K":13.765,"JK":1.92},{"K":13.795,"JK":1.36},{"K":13.825,"JK":1.55},{"K":13.855,"JK":1.21},{"K":13.885,"JK":1.83},{"K":13.915,"JK":1.62},{"K":13.945,"JK":1.40},{"K":13.975,"JK":1.72},{"K":14.005,"JK":1.87},{"K":14.035,"JK":1.43},{"K":14.065,"JK":1.60},{"K":14.095,"JK":1.27},{"K":14.125,"JK":1.68},{"K":14.155,"JK":1.91},{"K":14.185,"JK":1.50},
{"K":14.215,"JK":1.63},{"K":14.245,"JK":1.35},{"K":14.275,"JK":1.80},{"K":14.305,"JK":1.66},{"K":14.335,"JK":1.90},{"K":14.365,"JK":1.24},{"K":14.395,"JK":1.59},{"K":14.425,"JK":1.45},{"K":14.455,"JK":1.87},{"K":14.485,"JK":1.69},{"K":14.515,"JK":1.48},{"K":14.545,"JK":1.77},{"K":14.575,"JK":1.33},{"K":14.605,"JK":1.62},{"K":14.635,"JK":1.95},{"K":14.665,"JK":1.70},{"K":14.695,"JK":1.28},{"K":14.725,"JK":1.56},{"K":14.755,"JK":1.82},{"K":14.785,"JK":1.39},
{"K":14.815,"JK":1.61},{"K":14.845,"JK":1.86},{"K":14.875,"JK":1.53},{"K":14.905,"JK":1.24},{"K":14.935,"JK":1.78},{"K":14.965,"JK":1.65},{"K":14.995,"JK":1.44},{"K":15.025,"JK":1.91},{"K":15.055,"JK":1.59},{"K":15.085,"JK":1.75},{"K":15.115,"JK":1.35},{"K":15.145,"JK":1.63},{"K":15.175,"JK":1.82},{"K":15.205,"JK":1.51},{"K":15.235,"JK":1.67},{"K":15.265,"JK":1.41},{"K":15.295,"JK":1.79},{"K":15.325,"JK":1.57},{"K":15.355,"JK":1.46},{"K":15.385,"JK":1.70},
{"K":13.03,"JK":1.44},{"K":13.09,"JK":1.75},{"K":13.15,"JK":1.42},{"K":13.21,"JK":1.57},{"K":13.27,"JK":1.36},{"K":13.33,"JK":1.80},{"K":13.39,"JK":1.49},{"K":13.45,"JK":1.70},{"K":13.51,"JK":1.25},{"K":13.57,"JK":1.83},{"K":13.63,"JK":1.51},{"K":13.69,"JK":1.61},{"K":13.75,"JK":1.28},{"K":13.81,"JK":1.70},{"K":13.87,"JK":1.44},{"K":13.93,"JK":1.66},{"K":13.99,"JK":1.24},{"K":14.05,"JK":1.35},{"K":14.11,"JK":1.47},{"K":14.17,"JK":1.76},
{"K":14.23,"JK":1.42},{"K":14.29,"JK":1.60},{"K":14.35,"JK":1.81},{"K":14.41,"JK":1.38},{"K":14.47,"JK":1.56},{"K":14.53,"JK":1.64},{"K":14.59,"JK":1.40},{"K":14.65,"JK":1.53},{"K":14.71,"JK":1.83},{"K":14.77,"JK":1.66},{"K":14.83,"JK":1.47},{"K":14.89,"JK":1.72},{"K":14.95,"JK":1.58},{"K":15.01,"JK":1.36},{"K":15.07,"JK":1.50},{"K":15.13,"JK":1.62},{"K":15.19,"JK":1.71},{"K":15.25,"JK":1.60},{"K":15.31,"JK":1.50},{"K":15.37,"JK":1.45},
{"K":13.055,"JK":1.35},{"K":13.125,"JK":1.92},{"K":13.185,"JK":1.64},{"K":13.245,"JK":1.29},{"K":13.305,"JK":1.61},{"K":13.365,"JK":1.73},{"K":13.425,"JK":1.53},{"K":13.485,"JK":1.37},{"K":13.545,"JK":1.58},{"K":13.605,"JK":1.46},{"K":13.665,"JK":1.81},{"K":13.725,"JK":1.64},{"K":13.785,"JK":1.48},{"K":13.845,"JK":1.75},{"K":13.905,"JK":1.56},{"K":13.965,"JK":1.32},{"K":14.025,"JK":1.68},{"K":14.085,"JK":1.53},{"K":14.145,"JK":1.41},{"K":14.205,"JK":1.57},
{"K":14.265,"JK":1.73},{"K":14.325,"JK":1.52},{"K":14.385,"JK":1.64},{"K":14.445,"JK":1.42},{"K":14.505,"JK":1.72},{"K":14.565,"JK":1.55},{"K":14.625,"JK":1.31},{"K":14.685,"JK":1.64},{"K":14.745,"JK":1.50},{"K":14.805,"JK":1.74},{"K":14.865,"JK":1.43},{"K":14.925,"JK":1.67},{"K":14.985,"JK":1.83},{"K":15.045,"JK":1.45},{"K":15.105,"JK":1.71},{"K":15.165,"JK":1.39},{"K":15.225,"JK":1.55},{"K":15.285,"JK":1.68},{"K":15.345,"JK":1.71},{"K":15.405,"JK":1.53},
{"K":13.08,"JK":1.06},{"K":13.20,"JK":1.03},{"K":13.32,"JK":1.09},{"K":13.44,"JK":1.02},{"K":13.56,"JK":1.07},{"K":13.68,"JK":1.04},{"K":13.80,"JK":1.08},{"K":13.92,"JK":1.02},{"K":14.04,"JK":1.06},{"K":14.16,"JK":1.03},{"K":14.28,"JK":1.08},{"K":14.40,"JK":1.05},{"K":14.52,"JK":1.02},{"K":14.64,"JK":1.07},{"K":14.76,"JK":1.04},{"K":14.88,"JK":1.09},{"K":15.00,"JK":1.03},{"K":15.12,"JK":1.07},{"K":15.24,"JK":1.02},{"K":15.36,"JK":1.06},{"K":15.48,"JK":1.04},{"K":15.60,"JK":1.02},
{"K":13.14,"JK":1.97},{"K":13.38,"JK":2.04},{"K":13.62,"JK":1.99},{"K":13.86,"JK":2.06},{"K":14.10,"JK":2.01},{"K":14.34,"JK":2.08},{"K":14.58,"JK":1.99},{"K":14.82,"JK":1.96},{"K":15.06,"JK":1.93},{"K":15.30,"JK":1.90},{"K":13.50,"JK":2.12},{"K":13.98,"JK":2.16},{"K":14.46,"JK":2.03},{"K":14.94,"JK":2.00},
{"K":13.34,"JK":2.69},{"K":14.00,"JK":2.60},{"K":14.14,"JK":2.63},{"K":14.61,"JK":2.57},{"K":13.53,"JK":2.44},{"K":14.81,"JK":2.45},{"K":15.08,"JK":2.35},{"K":14.43,"JK":2.34},{"K":14.42,"JK":2.33},{"K":14.50,"JK":2.28},{"K":14.14,"JK":2.29},{"K":13.58,"JK":2.29},{"K":15.47,"JK":2.24},{"K":13.81,"JK":2.24},{"K":13.88,"JK":2.20},{"K":13.61,"JK":2.21},{"K":13.43,"JK":2.19},{"K":14.22,"JK":2.25},{"K":14.25,"JK":2.20},{"K":14.25,"JK":2.19},{"K":14.77,"JK":2.22},{"K":14.70,"JK":2.22},{"K":13.69,"JK":2.15},{"K":13.73,"JK":2.14},{"K":14.00,"JK":2.16},{"K":13.95,"JK":2.14},{"K":14.12,"JK":2.14},{"K":14.14,"JK":2.16},{"K":14.18,"JK":2.12},{"K":14.32,"JK":2.15},{"K":14.64,"JK":2.16},{"K":14.89,"JK":2.16},{"K":14.96,"JK":2.13},{"K":15.09,"JK":2.15},{"K":15.16,"JK":2.15},{"K":15.22,"JK":2.17},{"K":14.72,"JK":2.13},{"K":14.72,"JK":2.10},{"K":13.66,"JK":2.09},{"K":13.46,"JK":2.10},{"K":13.41,"JK":2.08},{"K":13.31,"JK":2.00},{"K":13.35,"JK":2.00},{"K":13.60,"JK":2.04},{"K":13.77,"JK":2.05},{"K":13.89,"JK":2.06},{"K":14.06,"JK":2.11},{"K":14.51,"JK":2.09},{"K":14.61,"JK":2.05},{"K":14.68,"JK":2.07},{"K":15.26,"JK":2.03},{"K":15.11,"JK":2.04},{"K":15.01,"JK":2.05},{"K":14.92,"JK":2.07},{"K":14.96,"JK":2.04},{"K":15.18,"JK":1.98},{"K":15.11,"JK":1.98},{"K":15.20,"JK":1.92},{"K":15.33,"JK":1.86},{"K":15.28,"JK":1.86},{"K":15.28,"JK":1.83},{"K":15.12,"JK":1.89},{"K":15.09,"JK":1.84},{"K":15.11,"JK":1.82},{"K":15.32,"JK":1.72},{"K":15.28,"JK":1.75},{"K":15.24,"JK":1.74},{"K":15.20,"JK":1.72},{"K":15.42,"JK":1.67},{"K":15.40,"JK":1.64},{"K":15.36,"JK":1.62},{"K":15.34,"JK":1.60},{"K":15.55,"JK":1.59},{"K":15.43,"JK":1.54},{"K":15.44,"JK":1.51},{"K":15.50,"JK":1.49},{"K":15.43,"JK":1.44},{"K":15.41,"JK":1.43},{"K":15.53,"JK":1.36},{"K":15.61,"JK":1.33},{"K":15.54,"JK":1.29},{"K":15.62,"JK":1.24},{"K":15.70,"JK":1.21},{"K":15.76,"JK":1.16},{"K":15.68,"JK":1.10},{"K":15.76,"JK":1.10},{"K":15.42,"JK":1.16},{"K":15.47,"JK":1.11},{"K":15.53,"JK":1.08},{"K":15.87,"JK":1.04},{"K":15.83,"JK":1.03},
{"K":11.08,"JK":0.88},{"K":11.18,"JK":0.87},{"K":11.25,"JK":0.87},{"K":11.27,"JK":0.90},{"K":11.38,"JK":0.95},{"K":11.41,"JK":0.95},{"K":11.50,"JK":0.96},{"K":11.43,"JK":0.83},{"K":11.46,"JK":0.83},{"K":11.48,"JK":0.89},{"K":11.60,"JK":0.88},{"K":11.68,"JK":0.86},{"K":11.63,"JK":0.68},{"K":11.73,"JK":0.71},{"K":11.78,"JK":0.94},{"K":11.75,"JK":0.96},{"K":11.85,"JK":0.88},{"K":11.89,"JK":0.77},{"K":11.93,"JK":0.82},{"K":12.00,"JK":0.78},{"K":12.13,"JK":0.88},{"K":12.16,"JK":0.83},{"K":12.18,"JK":0.80},{"K":12.26,"JK":0.72},{"K":12.36,"JK":0.81},{"K":12.50,"JK":0.82},{"K":12.60,"JK":0.82},{"K":12.55,"JK":0.80},{"K":12.60,"JK":0.71},{"K":12.55,"JK":0.71},{"K":12.66,"JK":0.76},{"K":12.56,"JK":0.91},{"K":12.74,"JK":0.90},{"K":12.85,"JK":0.94},{"K":12.93,"JK":0.85},{"K":12.96,"JK":0.82},{"K":12.82,"JK":0.68},{"K":12.81,"JK":0.64},{"K":12.70,"JK":0.57},{"K":12.74,"JK":0.50},{"K":12.80,"JK":0.52},{"K":12.71,"JK":0.52},{"K":13.07,"JK":0.53},{"K":13.14,"JK":0.54},{"K":13.19,"JK":0.50},{"K":13.26,"JK":0.50},{"K":12.06,"JK":0.54},{"K":12.10,"JK":0.48},{"K":12.28,"JK":0.48},{"K":12.35,"JK":0.54},{"K":12.34,"JK":0.59},{"K":12.37,"JK":0.64},{"K":12.25,"JK":0.42},{"K":12.11,"JK":0.39},{"K":12.13,"JK":0.39},{"K":11.94,"JK":0.45},{"K":11.72,"JK":0.39},{"K":11.79,"JK":0.39},{"K":11.75,"JK":0.32},{"K":11.64,"JK":0.67},{"K":11.37,"JK":0.44},{"K":11.16,"JK":0.45},{"K":11.10,"JK":0.32},{"K":11.23,"JK":0.35},{"K":11.26,"JK":0.35},{"K":11.22,"JK":0.30},{"K":11.13,"JK":0.24},{"K":11.44,"JK":0.32},{"K":11.54,"JK":0.13},{"K":11.72,"JK":0.10},{"K":12.21,"JK":0.37},{"K":12.23,"JK":0.34},{"K":12.28,"JK":0.32},{"K":12.48,"JK":0.43},{"K":12.52,"JK":0.40},{"K":12.70,"JK":0.31},{"K":12.85,"JK":0.30},{"K":13.04,"JK":0.28},{"K":13.04,"JK":0.37},{"K":13.09,"JK":0.41},{"K":13.14,"JK":0.43},{"K":13.22,"JK":0.35},{"K":12.35,"JK":0.15},{"K":11.12,"JK":0.60},{"K":11.30,"JK":0.74},{"K":11.52,"JK":0.57},{"K":12.98,"JK":0.65},{"K":13.12,"JK":0.72},{"K":13.20,"JK":0.88},{"K":13.05,"JK":0.95},{"K":12.45,"JK":0.93},{"K":11.95,"JK":0.62},{"K":12.05,"JK":0.20},{"K":12.60,"JK":0.18},{"K":13.20,"JK":0.20},
{"K":13.37,"JK":0.94},{"K":13.44,"JK":0.94},{"K":13.53,"JK":0.94},{"K":13.59,"JK":0.89},{"K":13.62,"JK":0.88},{"K":13.75,"JK":0.94},{"K":13.82,"JK":0.90},{"K":13.90,"JK":0.93},{"K":14.06,"JK":0.89},{"K":14.05,"JK":0.86},{"K":14.18,"JK":0.94},{"K":14.20,"JK":0.95},{"K":14.25,"JK":0.88},{"K":14.32,"JK":0.87},{"K":14.39,"JK":0.87},{"K":14.45,"JK":0.84},{"K":14.55,"JK":0.90},{"K":14.58,"JK":0.94},{"K":14.84,"JK":0.94},{"K":14.93,"JK":0.95},{"K":15.00,"JK":0.98},{"K":14.91,"JK":0.89},{"K":14.98,"JK":0.86},{"K":15.03,"JK":0.88},{"K":15.11,"JK":0.87},{"K":15.17,"JK":0.90},{"K":15.35,"JK":0.95},{"K":15.42,"JK":0.96},{"K":15.47,"JK":0.94},{"K":15.53,"JK":0.96},{"K":15.50,"JK":0.86},{"K":15.55,"JK":0.84},{"K":15.62,"JK":0.89},{"K":15.68,"JK":0.88},{"K":15.70,"JK":0.87},{"K":15.84,"JK":0.92},{"K":16.18,"JK":0.97},{"K":13.31,"JK":0.84},{"K":13.38,"JK":0.89},{"K":13.55,"JK":0.88},{"K":13.83,"JK":0.87},{"K":13.33,"JK":0.66},{"K":13.41,"JK":0.57},{"K":13.42,"JK":0.54},{"K":13.46,"JK":0.67},{"K":13.55,"JK":0.65},{"K":13.57,"JK":0.80},{"K":13.62,"JK":0.76},{"K":13.63,"JK":0.73},{"K":13.83,"JK":0.74},{"K":13.85,"JK":0.69},{"K":13.83,"JK":0.81},{"K":13.92,"JK":0.86},{"K":13.99,"JK":0.85},{"K":14.10,"JK":0.83},{"K":14.14,"JK":0.80},{"K":14.03,"JK":0.69},{"K":14.10,"JK":0.69},{"K":14.12,"JK":0.74},{"K":14.24,"JK":0.82},{"K":14.28,"JK":0.81},{"K":14.35,"JK":0.82},{"K":14.41,"JK":0.81},{"K":14.45,"JK":0.82},{"K":14.35,"JK":0.78},{"K":14.03,"JK":0.60},{"K":14.25,"JK":0.60},{"K":14.25,"JK":0.67},{"K":14.33,"JK":0.65},{"K":14.39,"JK":0.65},{"K":14.47,"JK":0.60},{"K":14.46,"JK":0.65},{"K":14.53,"JK":0.69},{"K":14.55,"JK":0.70},{"K":14.77,"JK":0.69},{"K":14.82,"JK":0.73},{"K":14.82,"JK":0.70},{"K":14.88,"JK":0.68},{"K":14.95,"JK":0.74},{"K":15.03,"JK":0.71},{"K":15.08,"JK":0.73},{"K":15.11,"JK":0.68},{"K":15.15,"JK":0.69},{"K":15.22,"JK":0.74},{"K":15.28,"JK":0.71},{"K":15.31,"JK":0.75},{"K":15.35,"JK":0.69},{"K":15.41,"JK":0.73},{"K":15.45,"JK":0.76},{"K":15.47,"JK":0.71},{"K":15.53,"JK":0.73},{"K":15.59,"JK":0.70},{"K":15.62,"JK":0.72},{"K":15.67,"JK":0.70},{"K":15.70,"JK":0.70},{"K":15.53,"JK":0.84},{"K":15.57,"JK":0.79},{"K":15.60,"JK":0.77},{"K":15.73,"JK":0.81},{"K":15.78,"JK":0.79},{"K":15.91,"JK":0.81},{"K":15.95,"JK":0.80},{"K":16.07,"JK":0.81},{"K":16.06,"JK":0.76},{"K":15.95,"JK":0.69},{"K":15.91,"JK":0.65},{"K":16.07,"JK":0.61},{"K":15.91,"JK":0.54},{"K":15.90,"JK":0.57},{"K":15.68,"JK":0.64},{"K":15.70,"JK":0.58},{"K":15.73,"JK":0.60},{"K":15.52,"JK":0.58},{"K":15.54,"JK":0.53},{"K":15.61,"JK":0.55},{"K":15.28,"JK":0.58},{"K":15.17,"JK":0.55},{"K":15.16,"JK":0.48},{"K":14.98,"JK":0.51},{"K":15.00,"JK":0.48},{"K":14.77,"JK":0.55},{"K":14.53,"JK":0.46},{"K":14.58,"JK":0.42},{"K":14.56,"JK":0.46},{"K":14.31,"JK":0.51},{"K":14.39,"JK":0.54},{"K":14.25,"JK":0.49},{"K":14.16,"JK":0.51},{"K":14.10,"JK":0.45},{"K":13.96,"JK":0.48},{"K":13.91,"JK":0.48},{"K":13.90,"JK":0.42},{"K":13.55,"JK":0.48},{"K":13.51,"JK":0.45},{"K":13.48,"JK":0.42},{"K":13.40,"JK":0.51},{"K":13.40,"JK":0.39},{"K":13.33,"JK":0.48},{"K":13.62,"JK":0.42},{"K":13.72,"JK":0.50},{"K":14.05,"JK":0.40},{"K":14.12,"JK":0.41},{"K":14.21,"JK":0.43},{"K":14.31,"JK":0.41},{"K":13.92,"JK":0.36},{"K":13.99,"JK":0.30},{"K":14.47,"JK":0.36},{"K":14.49,"JK":0.33},{"K":14.64,"JK":0.38},{"K":14.73,"JK":0.40},{"K":14.78,"JK":0.36},{"K":14.83,"JK":0.32},{"K":15.08,"JK":0.38},{"K":15.08,"JK":0.32},{"K":15.13,"JK":0.28},{"K":15.17,"JK":0.25},{"K":15.26,"JK":0.28},{"K":15.62,"JK":0.42},{"K":15.57,"JK":0.40},{"K":15.76,"JK":0.29},{"K":15.79,"JK":0.28},{"K":15.86,"JK":0.30},{"K":16.11,"JK":0.28},{"K":15.89,"JK":0.21},{"K":15.98,"JK":0.18},{"K":16.09,"JK":0.22},{"K":16.12,"JK":0.19},{"K":15.53,"JK":0.30},{"K":15.58,"JK":0.30},{"K":15.47,"JK":0.20},{"K":15.59,"JK":0.18},{"K":14.73,"JK":0.28},{"K":14.78,"JK":0.24},{"K":14.91,"JK":0.14},{"K":14.98,"JK":0.15},{"K":15.03,"JK":0.09},{"K":15.17,"JK":0.28},{"K":15.25,"JK":0.14},{"K":15.28,"JK":0.09},{"K":13.59,"JK":0.27},{"K":13.53,"JK":0.11},{"K":13.55,"JK":0.34},{"K":13.99,"JK":0.29},{"K":14.10,"JK":0.32},{"K":14.17,"JK":0.28},{"K":14.32,"JK":0.18},{"K":14.47,"JK":0.30},{"K":14.66,"JK":0.20},{"K":13.74,"JK":0.36},{"K":13.84,"JK":0.27},{"K":13.90,"JK":0.38},{"K":13.96,"JK":0.34},{"K":14.51,"JK":0.30},{"K":14.54,"JK":0.28},{"K":13.69,"JK":0.09},{"K":16.30,"JK":0.62},{"K":16.00,"JK":0.90},{"K":16.20,"JK":0.45}
],
"cv": [
{"K":9.31,"JK":0.19},{"K":11.17,"JK":0.96},{"K":10.37,"JK":0.88},{"K":10.44,"JK":0.61},{"K":12.31,"JK":0.90},{"K":13.23,"JK":0.78},{"K":11.72,"JK":0.52},{"K":11.76,"JK":0.25},{"K":12.52,"JK":0.37},{"K":12.92,"JK":0.42},{"K":12.66,"JK":0.20},{"K":12.62,"JK":0.13},{"K":12.75,"JK":0.10},{"K":14.52,"JK":0.99},{"K":15.22,"JK":0.99},{"K":16.34,"JK":0.97},{"K":14.69,"JK":0.90},{"K":14.80,"JK":0.85},{"K":15.41,"JK":0.90},{"K":13.97,"JK":0.79},{"K":13.64,"JK":0.69},{"K":13.74,"JK":0.59},{"K":14.64,"JK":0.63},{"K":15.13,"JK":0.60},{"K":15.11,"JK":0.54},{"K":15.87,"JK":0.63},{"K":13.76,"JK":0.43},{"K":15.06,"JK":0.39},{"K":16.08,"JK":0.42},{"K":13.90,"JK":0.30},{"K":14.34,"JK":0.31},{"K":15.93,"JK":0.30},{"K":14.05,"JK":0.20},{"K":14.92,"JK":0.22},{"K":16.05,"JK":0.22},{"K":14.84,"JK":-0.10}
],
"wd": [
{"K":10.88,"JK":0.25},{"K":12.42,"JK":0.26},{"K":12.27,"JK":-0.01},{"K":15.00,"JK":0.42},{"K":14.84,"JK":0.34},{"K":15.47,"JK":0.39},{"K":15.82,"JK":0.48},{"K":15.45,"JK":0.10},{"K":13.71,"JK":0.06},{"K":14.19,"JK":0.03},{"K":14.71,"JK":0.02},{"K":15.34,"JK":0.03},{"K":15.50,"JK":0.01},{"K":15.81,"JK":-0.05},{"K":15.94,"JK":-0.15},{"K":14.33,"JK":-0.15},{"K":15.14,"JK":-0.12},{"K":15.08,"JK":-0.20},{"K":14.31,"JK":-0.30},{"K":15.60,"JK":-0.30}
],
"both": [{"K":15.46,"JK":0.25}],
"cut": [{"K":11,"K2":11,"JK":-1,"JK2":1},{"K":11,"K2":17,"JK":1,"JK2":1}],
"legendwd": [{"K":11.41,"JK":-0.43}],
"legendcv": [{"K":12.79,"JK":-0.43}],
"labels": [{"K":7.27,"JK":-0.335,"name":"Bright Stars"},{"K":11.56,"JK":-0.525,"name":"WDs"},{"K":12.92,"JK":-0.525,"name":"CVs"},{"K":15.28,"JK":2.453,"name":"AGN"}]
},
"layer": [
{
"data": {"name": "dots"},
"mark": {"type": "point", "shape": "square", "filled": true, "size": 8, "color": "#000000", "opacity": 1},
"encoding": {
"x": {"field": "K", "type": "quantitative", "scale": {"domain": [7, 17], "nice": false, "zero": false},
"axis": {"orient": "bottom", "values": [8, 10, 12, 14, 16], "grid": false, "tickSize": -12, "tickWidth": 1.5, "tickColor": "#333333", "domainColor": "#333333", "domainWidth": 1.8, "labelPadding": 25, "labelFont": "DejaVu Serif", "labelFontSize": 23, "labelColor": "#000000", "title": "2MASS K magnitude", "titleFont": "DejaVu Serif", "titleFontSize": 25, "titleFontWeight": "normal", "titleColor": "#000000", "titleX": 680, "titleY": 58, "titleBaseline": "alphabetic", "titleAlign": "center"}},
"y": {"field": "JK", "type": "quantitative", "scale": {"domain": [-1, 3], "nice": false, "zero": false},
"axis": {"orient": "left", "values": [-1, 0, 1, 2, 3], "grid": false, "tickSize": -12, "tickWidth": 1.5, "tickColor": "#333333", "domainColor": "#333333", "domainWidth": 1.8, "labelPadding": 38, "labelFont": "DejaVu Serif", "labelFontSize": 23, "labelColor": "#000000", "title": "2MASS J−K", "titleFont": "DejaVu Serif", "titleFontSize": 26, "titleFontWeight": "normal", "titleColor": "#000000", "titleX": -106, "titleY": 332, "titleAngle": 270, "titleBaseline": "alphabetic", "titleAlign": "center"}}
}
},
{
"data": {"name": "cut"},
"mark": {"type": "rule", "color": "#000000", "strokeWidth": 3, "strokeDash": [3, 2.5]},
"encoding": {
"x": {"field": "K", "type": "quantitative", "scale": {"domain": [7, 17], "nice": false, "zero": false}, "axis": null},
"x2": {"field": "K2"},
"y": {"field": "JK", "type": "quantitative", "scale": {"domain": [-1, 3], "nice": false, "zero": false}, "axis": null},
"y2": {"field": "JK2"}
}
},
{
"data": {"name": "cv"},
"mark": {"type": "point", "shape": "M0,-0.8L0.333,-0.4L1,-0.4L0.667,0L1,0.4L0.333,0.4L0,0.8L-0.333,0.4L-1,0.4L-0.667,0L-1,-0.4L-0.333,-0.4Z", "size": 240, "filled": true, "fill": "#ffffff", "stroke": "#000000", "strokeWidth": 1.5, "opacity": 1},
"encoding": {
"x": {"field": "K", "type": "quantitative", "scale": {"domain": [7, 17], "nice": false, "zero": false},
"axis": {"orient": "bottom", "values": [7.5, 8.5, 9, 9.5, 10.5, 11, 11.5, 12.5, 13, 13.5, 14.5, 15, 15.5, 16.5], "grid": false, "domain": false, "labels": false, "title": null, "tickSize": -6, "tickWidth": 1.5, "tickColor": "#333333"}},
"y": {"field": "JK", "type": "quantitative", "scale": {"domain": [-1, 3], "nice": false, "zero": false},
"axis": {"orient": "left", "values": [-0.8, -0.6, -0.4, -0.2, 0.2, 0.4, 0.6, 0.8, 1.2, 1.4, 1.6, 1.8, 2.2, 2.4, 2.6, 2.8], "grid": false, "domain": false, "labels": false, "title": null, "tickSize": -6, "tickWidth": 1.5, "tickColor": "#333333"}}
}
},
{
"data": {"name": "wd"},
"mark": {"type": "point", "shape": "M-1,0A1,0.9,0,1,0,1,0A1,0.9,0,1,0,-1,0Z", "size": 121, "filled": true, "color": "#000000", "opacity": 1},
"encoding": {
"x": {"field": "K", "type": "quantitative", "scale": {"domain": [7, 17], "nice": false, "zero": false},
"axis": {"orient": "top", "values": [8, 10, 12, 14, 16], "grid": false, "labels": false, "title": null, "tickSize": -12, "tickWidth": 1.5, "tickColor": "#333333", "domainColor": "#333333", "domainWidth": 1.8}},
"y": {"field": "JK", "type": "quantitative", "scale": {"domain": [-1, 3], "nice": false, "zero": false},
"axis": {"orient": "right", "values": [-1, 0, 1, 2, 3], "grid": false, "labels": false, "title": null, "tickSize": -12, "tickWidth": 1.5, "tickColor": "#333333", "domainColor": "#333333", "domainWidth": 1.8}}
}
},
{
"data": {"name": "both"},
"mark": {"type": "point", "shape": "M0,-0.8L0.333,-0.4L1,-0.4L0.667,0L1,0.4L0.333,0.4L0,0.8L-0.333,0.4L-1,0.4L-0.667,0L-1,-0.4L-0.333,-0.4Z", "size": 240, "filled": true, "color": "#000000", "opacity": 1},
"encoding": {
"x": {"field": "K", "type": "quantitative", "scale": {"domain": [7, 17], "nice": false, "zero": false},
"axis": {"orient": "top", "values": [7.5, 8.5, 9, 9.5, 10.5, 11, 11.5, 12.5, 13, 13.5, 14.5, 15, 15.5, 16.5], "grid": false, "domain": false, "labels": false, "title": null, "tickSize": -6, "tickWidth": 1.5, "tickColor": "#333333"}},
"y": {"field": "JK", "type": "quantitative", "scale": {"domain": [-1, 3], "nice": false, "zero": false},
"axis": {"orient": "right", "values": [-0.8, -0.6, -0.4, -0.2, 0.2, 0.4, 0.6, 0.8, 1.2, 1.4, 1.6, 1.8, 2.2, 2.4, 2.6, 2.8], "grid": false, "domain": false, "labels": false, "title": null, "tickSize": -6, "tickWidth": 1.5, "tickColor": "#333333"}}
}
},
{
"data": {"name": "legendwd"},
"mark": {"type": "point", "shape": "M-1,0A1,0.9,0,1,0,1,0A1,0.9,0,1,0,-1,0Z", "size": 676, "filled": true, "color": "#000000", "opacity": 1},
"encoding": {
"x": {"field": "K", "type": "quantitative", "scale": {"domain": [7, 17], "nice": false, "zero": false}, "axis": null},
"y": {"field": "JK", "type": "quantitative", "scale": {"domain": [-1, 3], "nice": false, "zero": false}, "axis": null}
}
},
{
"data": {"name": "legendcv"},
"mark": {"type": "point", "shape": "M0,-1Q0.12,-0.12,1,0Q0.12,0.12,0,1Q-0.12,0.12,-1,0Q-0.12,-0.12,0,-1Z", "size": 1024, "filled": true, "fill": "#ffffff", "stroke": "#000000", "strokeWidth": 2.6, "opacity": 1},
"encoding": {
"x": {"field": "K", "type": "quantitative", "scale": {"domain": [7, 17], "nice": false, "zero": false}, "axis": null},
"y": {"field": "JK", "type": "quantitative", "scale": {"domain": [-1, 3], "nice": false, "zero": false}, "axis": null}
}
},
{
"data": {"name": "labels"},
"mark": {"type": "text", "align": "left", "baseline": "alphabetic", "font": "Open Sans", "fontSize": 44, "fontWeight": "bold", "fontStyle": "italic", "color": "#ff0000"},
"encoding": {
"x": {"field": "K", "type": "quantitative", "scale": {"domain": [7, 17], "nice": false, "zero": false}, "axis": null},
"y": {"field": "JK", "type": "quantitative", "scale": {"domain": [-1, 3], "nice": false, "zero": false}, "axis": null},
"text": {"field": "name"}
}
}
],
"resolve": {"axis": {"x": "independent", "y": "independent"}}
}
